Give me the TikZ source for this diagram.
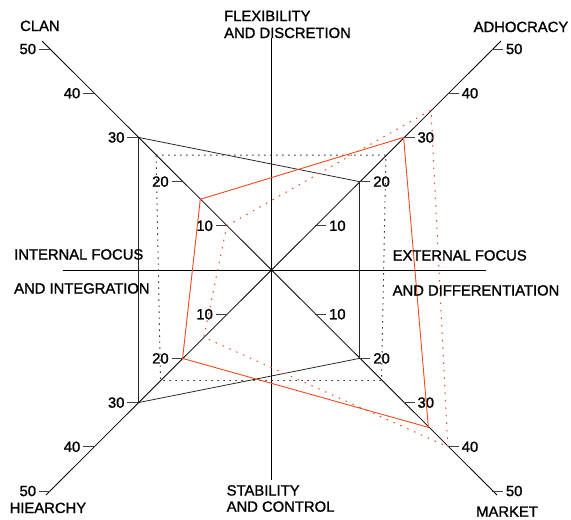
\documentclass[tikz,border=0pt]{standalone}
\usepackage{fontspec}
\setmainfont[FakeBold=1.3]{Liberation Sans}
\definecolor{myred}{HTML}{F04A1E}
\begin{document}
\begin{tikzpicture}[x=1pt,y=-1pt, font=\fontsize{14.8}{17}\selectfont,
  axis/.style={draw=black, line width=0.8pt},
  tickln/.style={draw=black!75, line width=0.9pt},
  num/.style={inner sep=0pt},
  lbl/.style={inner sep=0pt, anchor=base west},
  blk/.style={draw=black!85, line width=0.8pt},
  blkdot/.style={draw=black!80, line width=0.9pt, dash pattern=on 1.5pt off 4.5pt},
  redl/.style={draw=myred, line width=0.9pt},
  reddot/.style={draw=myred, line width=1pt, dash pattern=on 1.5pt off 6pt}]
\useasboundingbox (0,0) rectangle (571,520);
\def\U{4.42}
\coordinate (c) at (271,270);
\coordinate (clanEnd) at (42,41);
\coordinate (adhEnd) at (501,41);
\coordinate (hierEnd) at (46,495);
\coordinate (mktEnd) at (497,495);
\coordinate (top) at (271,38);
\coordinate (bot) at (271,480);
\coordinate (lft) at (62.5,270);
\coordinate (rgt) at (486,270);
% axes
\draw[axis] (clanEnd) -- (mktEnd);
\draw[axis] (hierEnd) -- (adhEnd);
\draw[axis] (top) -- (bot);
\draw[axis] (lft) -- (rgt);
% ticks
\foreach \v in {10,20,30,40,50} {
  \coordinate (cl\v) at ({271-\U*\v},{270-\U*\v});
  \coordinate (ad\v) at ({271+\U*\v},{270-\U*\v});
  \coordinate (hi\v) at ({271-\U*\v},{270+\U*\v});
  \coordinate (mk\v) at ({271+\U*\v},{270+\U*\v});
  \draw[tickln] (cl\v) -- ++(-11,0) node[num, anchor=east, xshift=-2.5pt] {\v};
  \draw[tickln] (hi\v) -- ++(-11,0) node[num, anchor=east, xshift=-2.5pt] {\v};
  \draw[tickln] (ad\v) -- ++(11,0) node[num, anchor=west, xshift=2.5pt] {\v};
  \draw[tickln] (mk\v) -- ++(11,0) node[num, anchor=west, xshift=2.5pt] {\v};
}
% polygons
\coordinate (bdA) at ({271-\U*26},{270-\U*26});
\coordinate (bdB) at ({271+\U*26},{270-\U*26});
\coordinate (bdC) at ({271+\U*25},{270+\U*25});
\coordinate (bdD) at ({271-\U*25},{270+\U*25});
\coordinate (rsA) at ({271-\U*16},{270-\U*16});
\coordinate (rsB) at ({271+\U*30},{270-\U*30});
\coordinate (rsC) at ({271+\U*35.6},{270+\U*35.6});
\coordinate (rsD) at ({271-\U*20},{270+\U*20});
\coordinate (rdA) at ({271-\U*10},{270-\U*10});
\coordinate (rdB) at ({271+\U*36.2},{270-\U*36.2});
\coordinate (rdC) at ({271+\U*40},{270+\U*40});
\coordinate (rdD) at ({271-\U*15.2},{270+\U*15.2});
\draw[blk] (cl30) -- (ad20) -- (mk20) -- (hi30) -- cycle;
\draw[blkdot] (bdA) -- (bdB) -- (bdC) -- (bdD) -- cycle;
\draw[redl] (rsA) -- (rsB) -- (rsC) -- (rsD) -- cycle;
\draw[reddot] (rdA) -- (rdB) -- (rdC) -- (rdD) -- cycle;
% labels
\node[lbl] (clan) at (20,31) {CLAN};
\node[lbl] (adh) at (473.5,32) {ADHOCRACY};
\node[lbl] (hier) at (9.5,513) {HIEARCHY};
\node[lbl] (mkt) at (476,516.7) {MARKET};
\node[lbl] (flex1) at (224,21) {FLEXIBILITY};
\node[lbl] (flex2) at (224,38) {AND DISCRETION};
\node[lbl] (stab1) at (226.5,495.5) {STABILITY};
\node[lbl] (stab2) at (226.5,511.7) {AND CONTROL};
\node[lbl] (int1) at (14,259.5) {INTERNAL FOCUS};
\node[lbl] (int2) at (14,293.5) {AND INTEGRATION};
\node[lbl] (ext1) at (392.5,260.5) {EXTERNAL FOCUS};
\node[lbl] (ext2) at (392.5,295.5) {AND DIFFERENTIATION};
\end{tikzpicture}
\end{document}
